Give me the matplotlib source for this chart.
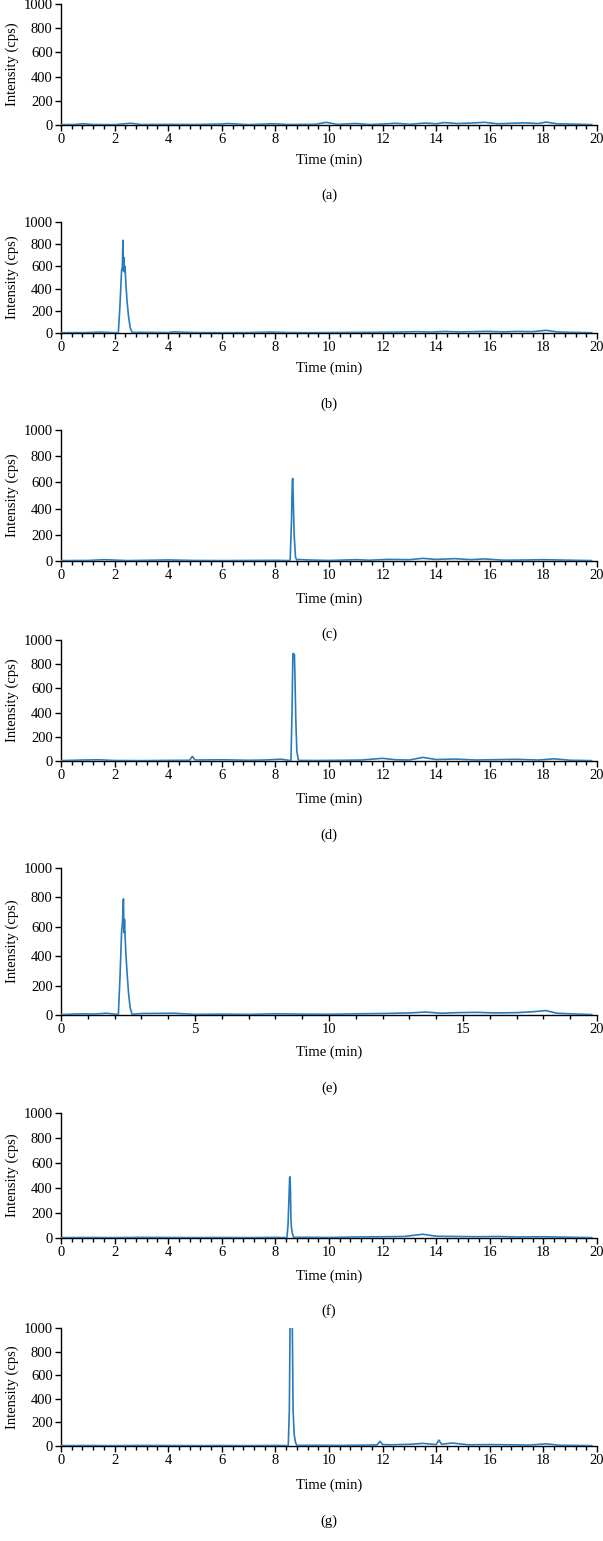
import matplotlib
matplotlib.use("Agg")
import matplotlib.pyplot as plt
from matplotlib.ticker import MultipleLocator

plt.rcParams['font.family'] = ['Liberation Serif', 'DejaVu Serif']

W, H = 603, 1541

labels = ["(a)", "(b)", "(c)", "(d)", "(e)", "(f)", "(g)"]
xlabel = "Time (min)"
ylabel = "Intensity (cps)"

# ---- data ----
t_a = [0, 0.5, 0.8, 1.2, 2.0, 2.6, 3.0, 4.0, 5.0, 6.0, 6.2, 7.0, 7.9, 8.5, 9.5, 9.9, 10.3, 11.0, 11.5, 12.0,
       12.5, 13.0, 13.6, 14.0, 14.3, 14.8, 15.2, 15.8, 16.3, 16.8, 17.3, 17.8, 18.1, 18.5, 19.0, 19.5, 19.8]
i_a = [3, 4, 10, 4, 3, 14, 4, 5, 4, 8, 12, 3, 10, 4, 6, 22, 5, 12, 4, 8,
       14, 6, 16, 10, 20, 12, 15, 22, 10, 14, 18, 12, 24, 10, 8, 5, 3]

t_b = [0, 1.0, 1.5, 2.0, 2.14, 2.2, 2.26, 2.29, 2.31, 2.33, 2.35, 2.37, 2.39, 2.42, 2.46, 2.52, 2.58, 2.65,
       3.0, 4.0, 4.2, 5.0, 6.0, 7.0, 7.8, 8.5, 9.5, 10.5, 11.5, 12.5, 13.3, 13.8, 14.3, 14.8, 15.4, 15.9,
       16.5, 17.0, 17.6, 18.1, 18.5, 19.0, 19.8]
i_b = [3, 4, 8, 3, 3, 250, 560, 600, 835, 560, 680, 550, 600, 450, 300, 150, 50, 5,
       6, 4, 10, 4, 3, 4, 8, 4, 3, 5, 6, 8, 12, 8, 14, 10, 12, 15,
       10, 14, 12, 24, 10, 6, 3]

t_c = [0, 1.0, 1.6, 2.5, 4.0, 5.0, 6.0, 7.0, 8.0, 8.55, 8.6, 8.63, 8.645, 8.67, 8.7, 8.75, 8.8, 8.85,
       9.2, 10.0, 11.0, 11.5, 12.2, 13.0, 13.5, 14.0, 14.7, 15.3, 15.8, 16.5, 17.5, 18.0, 19.0, 19.8]
i_c = [3, 4, 10, 3, 8, 4, 3, 4, 5, 3, 300, 600, 630, 450, 200, 30, 5, 12,
       8, 4, 10, 6, 12, 10, 20, 12, 18, 10, 16, 6, 8, 10, 6, 3]

t_d = [0, 0.8, 1.4, 2.0, 3.0, 4.0, 4.8, 4.9, 5.0, 6.0, 7.0, 7.6, 8.2, 8.58, 8.62, 8.65, 8.67, 8.69, 8.71, 8.73,
       8.76, 8.8, 8.86, 9.5, 10.5, 11.2, 12.0, 12.5, 13.0, 13.5, 14.0, 14.7, 15.5, 16.0, 17.0, 17.8, 18.4,
       19.0, 19.8]
i_d = [3, 8, 10, 4, 3, 5, 6, 38, 8, 10, 6, 8, 15, 3, 400, 850, 890, 860, 880, 700,
       350, 80, 5, 4, 6, 8, 22, 10, 8, 30, 12, 16, 8, 10, 14, 8, 18,
       6, 3]

t_e = [0, 0.8, 1.2, 1.7, 2.14, 2.2, 2.26, 2.29, 2.33, 2.35, 2.37, 2.39, 2.42, 2.46, 2.52, 2.58, 2.65,
       3.0, 4.2, 5.0, 6.0, 7.0, 8.0, 9.0, 10.0, 11.0, 12.0, 13.0, 13.6, 14.2, 14.8, 15.5, 16.2, 17.0,
       17.6, 18.1, 18.5, 19.0, 19.8]
i_e = [3, 8, 6, 12, 3, 250, 560, 620, 790, 560, 650, 540, 420, 300, 150, 50, 5,
       10, 12, 4, 6, 4, 8, 6, 5, 8, 10, 14, 20, 12, 16, 18, 14, 16,
       22, 30, 12, 8, 3]

t_f = [0, 1.0, 2.0, 3.0, 4.0, 5.0, 6.0, 7.0, 8.0, 8.43, 8.47, 8.5, 8.53, 8.545, 8.56, 8.58, 8.6, 8.63, 8.68,
       9.2, 10.0, 11.0, 12.0, 12.8, 13.5, 14.0, 14.8, 15.5, 16.3, 17.0, 18.0, 19.0, 19.8]
i_f = [3, 4, 3, 5, 4, 3, 4, 3, 5, 3, 100, 280, 480, 490, 400, 150, 80, 40, 5,
       6, 4, 8, 10, 12, 30, 14, 12, 10, 12, 8, 10, 6, 3]

t_g = [0, 1.0, 2.0, 3.0, 4.0, 5.0, 6.0, 7.0, 8.0, 8.48, 8.52, 8.55, 8.6, 8.63, 8.66, 8.7, 8.75, 8.8,
       9.5, 10.5, 11.5, 11.8, 11.9, 12.0, 12.3, 13.0, 13.5, 14.0, 14.1, 14.2, 14.6, 15.2, 16.0, 16.8, 17.5,
       18.1, 18.6, 19.3, 19.8]
i_g = [3, 4, 3, 5, 4, 3, 4, 3, 5, 3, 300, 1100, 1150, 1050, 300, 100, 30, 5,
       6, 5, 8, 10, 40, 12, 10, 14, 22, 12, 50, 15, 25, 10, 12, 10, 8,
       18, 6, 5, 3]

times = [t_a, t_b, t_c, t_d, t_e, t_f, t_g]
intens = [i_a, i_b, i_c, i_d, i_e, i_f, i_g]

# ---- layout (pixel positions) ----
y_top = [4, 222, 430, 640, 868, 1113, 1328]      # pixel y of 1000
y_zero = [125, 333, 561, 761, 1015, 1238, 1446]  # pixel y of 0
y_xlab = [160, 368, 599, 799, 1052, 1276, 1485]
y_cap = [195, 404, 634, 835, 1088, 1311, 1521]
x0_px, x1_px = 61, 597

fig = plt.figure(figsize=(W / 100, H / 100), dpi=100)
color = '#2a7bbb'

for k in range(7):
    bottom = 1 - y_zero[k] / H
    height = (y_zero[k] - y_top[k]) / H
    ax = fig.add_axes([x0_px / W, bottom, (x1_px - x0_px) / W, height])
    ax.plot(times[k], intens[k], color=color, lw=1.2, zorder=3)
    ax.set_xlim(0, 20)
    ax.set_ylim(0, 1000)
    for s in ['top', 'right']:
        ax.spines[s].set_visible(False)
    for s in ['left', 'bottom']:
        ax.spines[s].set_linewidth(1.0)
    ax.yaxis.set_major_locator(MultipleLocator(200))
    if k == 4:
        ax.xaxis.set_major_locator(MultipleLocator(5))
        ax.xaxis.set_minor_locator(MultipleLocator(1))
    else:
        ax.xaxis.set_major_locator(MultipleLocator(2))
        ax.xaxis.set_minor_locator(MultipleLocator(0.4))
    ax.tick_params(axis='both', which='major', direction='out', length=4, width=1, labelsize=10.5, pad=2)
    ax.tick_params(axis='x', which='minor', direction='out', length=3, width=1)
    ax.set_ylabel(ylabel, fontsize=10.5)
    ax.yaxis.set_label_coords(-0.078, 0.5)
    fig.text((x0_px + x1_px) / 2 / W, 1 - y_xlab[k] / H, xlabel, ha='center', va='center', fontsize=10.5)
    fig.text((x0_px + x1_px) / 2 / W, 1 - y_cap[k] / H, labels[k], ha='center', va='center', fontsize=10.5)

fig.savefig('out.png', dpi=100)
